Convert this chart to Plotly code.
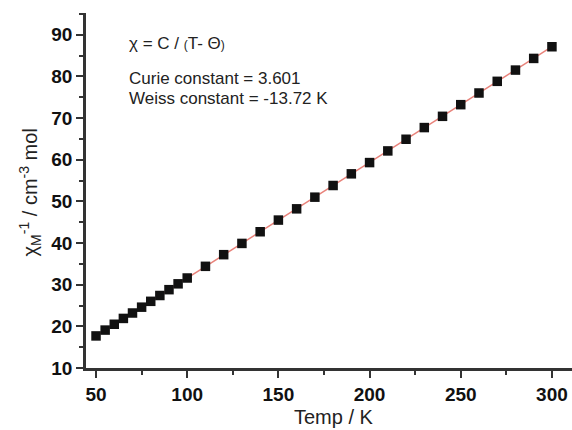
import plotly.graph_objects as go

temp = [50, 55, 60, 65, 70, 75, 80, 85, 90, 95, 100,
        110, 120, 130, 140, 150, 160, 170, 180, 190, 200,
        210, 220, 230, 240, 250, 260, 270, 280, 290, 300]
inv_chi = [17.7, 19.1, 20.5, 21.9, 23.2, 24.6, 26.0, 27.4, 28.8, 30.2, 31.6,
           34.4, 37.2, 39.9, 42.7, 45.5, 48.2, 51.0, 53.8, 56.6, 59.3,
           62.1, 64.9, 67.7, 70.4, 73.2, 76.0, 78.8, 81.5, 84.3, 87.1]
fit_t = [50, 300]
fit_y = [17.69, 87.12]

x_ticks = [50, 100, 150, 200, 250, 300]
y_ticks = [10, 20, 30, 40, 50, 60, 70, 80, 90]

fig = go.Figure()
fig.add_trace(go.Scatter(x=fit_t, y=fit_y, mode="lines",
                         line=dict(color="#e8827a", width=1.5), showlegend=False))
fig.add_trace(go.Scatter(x=temp, y=inv_chi, mode="markers",
                         marker=dict(symbol="square", size=9.5, color="#111111"),
                         showlegend=False))

axis_common = dict(showline=True, linecolor="#333333", linewidth=2.5,
                   ticks="outside", ticklen=7, tickwidth=2, tickcolor="#333333",
                   showgrid=False, zeroline=False,
                   tickfont=dict(family="Liberation Sans, Arial", size=19, color="#111111", weight="bold"),
                   minor=dict(ticks="outside", ticklen=4, tickwidth=1.5, tickcolor="#333333"))

fig.update_xaxes(range=[44.5, 311], tickvals=x_ticks, minor_dtick=25, minor_tick0=25,
                 **axis_common)
fig.update_yaxes(range=[10, 95.2], tickvals=y_ticks, minor_dtick=5, minor_tick0=5,
                 **axis_common)

fig.add_annotation(xref="paper", yref="paper", x=(334 - 86) / (572 - 86), y=-0.1,
                   text="Temp / K", showarrow=False, xanchor="center", yanchor="top",
                   font=dict(family="Liberation Sans, Arial", size=20, color="#222222"))
fig.add_annotation(xref="paper", yref="paper", x=-0.115, y=0.495,
                   text="χ<sub>M</sub><sup>-1</sup> / cm<sup>-3</sup> mol", showarrow=False,
                   textangle=-90, xanchor="center", yanchor="middle",
                   font=dict(family="Liberation Sans, Arial", size=20, color="#222222"))

txt_font = dict(family="Liberation Sans, Arial", size=17, color="#222222")
fig.add_annotation(x=67, y=87.9, text="χ = C / <span style='font-size:12px'>(</span>T- Θ<span style='font-size:12px'>)</span>",
                   showarrow=False, xanchor="left", yanchor="middle", font=txt_font)
fig.add_annotation(x=67, y=79.6, text="Curie constant = 3.601",
                   showarrow=False, xanchor="left", yanchor="middle", font=txt_font)
fig.add_annotation(x=67, y=74.6, text="Weiss constant = -13.72 K",
                   showarrow=False, xanchor="left", yanchor="middle", font=txt_font)

fig.update_layout(width=572, height=430, margin=dict(l=86, r=0, t=13, b=62),
                  plot_bgcolor="white", paper_bgcolor="white")
fig.write_html("out.html")
